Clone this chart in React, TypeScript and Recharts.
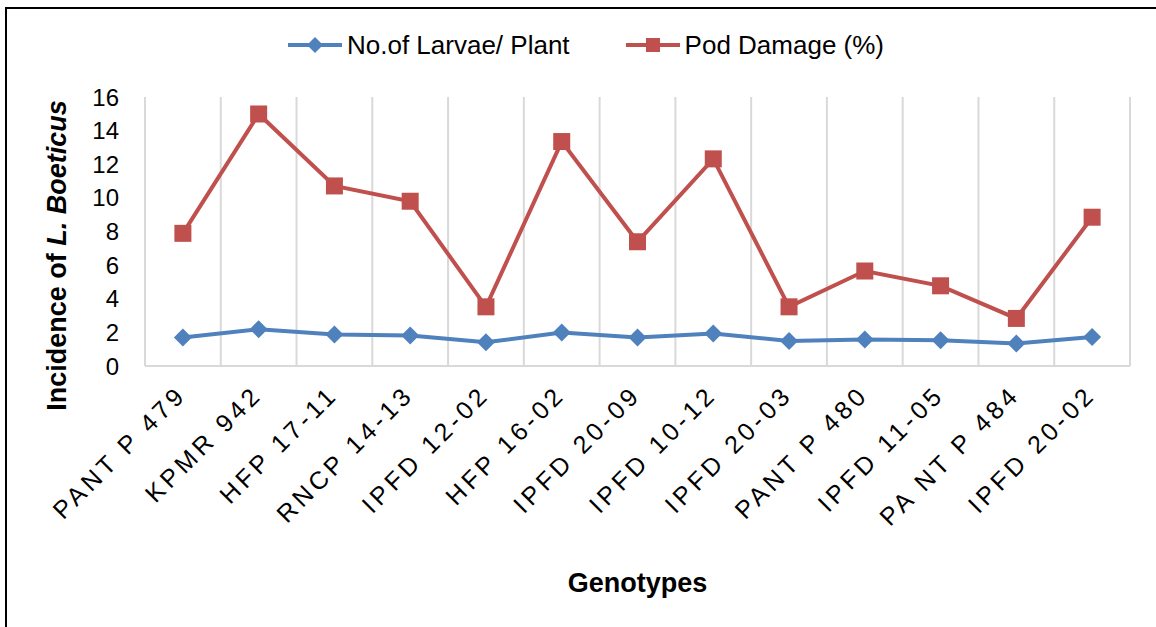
import { LineChart, Line, XAxis, YAxis, CartesianGrid, Legend, Label } from 'recharts'

const genotypes = [
  'PANT P 479', 'KPMR 942', 'HFP 17-11', 'RNCP 14-13', 'IPFD 12-02', 'HFP 16-02', 'IPFD 20-09',
  'IPFD 10-12', 'IPFD 20-03', 'PANT P 480', 'IPFD 11-05', 'PA NT P 484', 'IPFD 20-02',
]
const larvaePerPlant = [1.69, 2.19, 1.87, 1.81, 1.41, 1.99, 1.69, 1.93, 1.49, 1.57, 1.53, 1.34, 1.73]
const podDamage = [7.89, 14.99, 10.71, 9.8, 3.52, 13.35, 7.39, 12.32, 3.52, 5.65, 4.77, 2.83, 8.85]
const yTicks = [0, 2, 4, 6, 8, 10, 12, 14, 16]

const BLUE = '#4F81BD'
const RED = '#C0504D'
const GRID = '#d9d9d9'
const FONT = '"Liberation Sans", Arial, sans-serif'

const data = genotypes.map((name, i) => ({ name, larvae: larvaePerPlant[i], pod: podDamage[i] }))

function Diamond({ cx, cy, r = 9 }: any) {
  return <polygon points={`${cx},${cy - r} ${cx + r},${cy} ${cx},${cy + r} ${cx - r},${cy}`} fill={BLUE} />
}

function Square({ cx, cy, s = 17 }: any) {
  return <rect x={cx - s / 2} y={cy - s / 2} width={s} height={s} fill={RED} />
}

function GenotypeTick({ x, y, payload }: any) {
  const ax = x + 5
  const ay = y + 28
  return (
    <text x={ax} y={ay} transform={`rotate(-45, ${ax}, ${ay})`} textAnchor="end"
      fontSize={25} letterSpacing={4} fill="#000" fontFamily={FONT}>
      {payload.value}
    </text>
  )
}

function YTitle({ viewBox }: any) {
  const x = viewBox.x + 66
  const y = viewBox.y + viewBox.height / 2 + 24
  return (
    <text x={x} y={y} transform={`rotate(-90, ${x}, ${y})`} textAnchor="middle"
      fontSize={27} fontWeight="bold" fill="#000" fontFamily={FONT}>
      Incidence of <tspan fontStyle="italic">L. Boeticus</tspan>
    </text>
  )
}

function LegendRow() {
  const items = [
    { label: 'No.of Larvae/ Plant', color: BLUE, marker: 'diamond' },
    { label: 'Pod Damage (%)', color: RED, marker: 'square' },
  ]
  return (
    <div style={{ display: 'flex', justifyContent: 'center', gap: 56, paddingLeft: 16, height: 30, alignItems: 'center', fontFamily: FONT }}>
      {items.map((it) => (
        <div key={it.label} style={{ display: 'flex', alignItems: 'center', gap: 5 }}>
          <svg width={54} height={20}>
            <line x1={0} y1={10} x2={54} y2={10} stroke={it.color} strokeWidth={4} />
            {it.marker === 'diamond' ? <Diamond cx={27} cy={10} r={8} /> : <Square cx={27} cy={10} s={14} />}
          </svg>
          <span style={{ fontSize: 26, color: '#000' }}>{it.label}</span>
        </div>
      ))}
    </div>
  )
}

export default function App() {
  return (
    <div style={{ position: 'absolute', left: 0, top: 0, width: 1156, height: 627, overflow: 'hidden', background: '#fff' }}>
      <div style={{ position: 'absolute', left: 5, top: 7, width: 1300, height: 800, borderLeft: '2px solid #000', borderTop: '2px solid #000' }} />
      <div style={{ position: 'absolute', left: 0, top: 0 }}>
        <LineChart width={1156} height={627} data={data} margin={{ top: 67, right: 26, left: 0, bottom: 0 }}>
          <CartesianGrid horizontal={false} stroke={GRID} strokeWidth={2}
            verticalCoordinatesGenerator={({ offset }: any) =>
              genotypes.map((_, i) => offset.left + (i * offset.width) / genotypes.length).concat(offset.left + offset.width)} />
          <XAxis dataKey="name" scale="band" interval={0} height={261} tickLine={false} tickSize={0}
            axisLine={{ stroke: GRID, strokeWidth: 2 }} tick={<GenotypeTick />}>
            <Label value="Genotypes" position="insideBottom" offset={35}
              style={{ fontSize: 27, fontWeight: 'bold', fill: '#000', fontFamily: FONT }} />
          </XAxis>
          <YAxis width={145} domain={[0, 16]} ticks={yTicks} interval={0} tickLine={false} tickSize={6} tickMargin={20}
            axisLine={{ stroke: GRID, strokeWidth: 2 }}
            tick={{ fontSize: 24, fill: '#000', fontFamily: FONT }}>
            <Label content={<YTitle />} />
          </YAxis>
          <Legend verticalAlign="top" wrapperStyle={{ top: 30, left: 0, width: 1156 }} content={<LegendRow />} />
          <Line dataKey="larvae" name="No.of Larvae/ Plant" stroke={BLUE} strokeWidth={4} isAnimationActive={false}
            dot={(p: any) => <Diamond key={p.index} cx={p.cx} cy={p.cy} />} />
          <Line dataKey="pod" name="Pod Damage (%)" stroke={RED} strokeWidth={4} isAnimationActive={false}
            dot={(p: any) => <Square key={p.index} cx={p.cx} cy={p.cy} />} />
        </LineChart>
      </div>
    </div>
  )
}
